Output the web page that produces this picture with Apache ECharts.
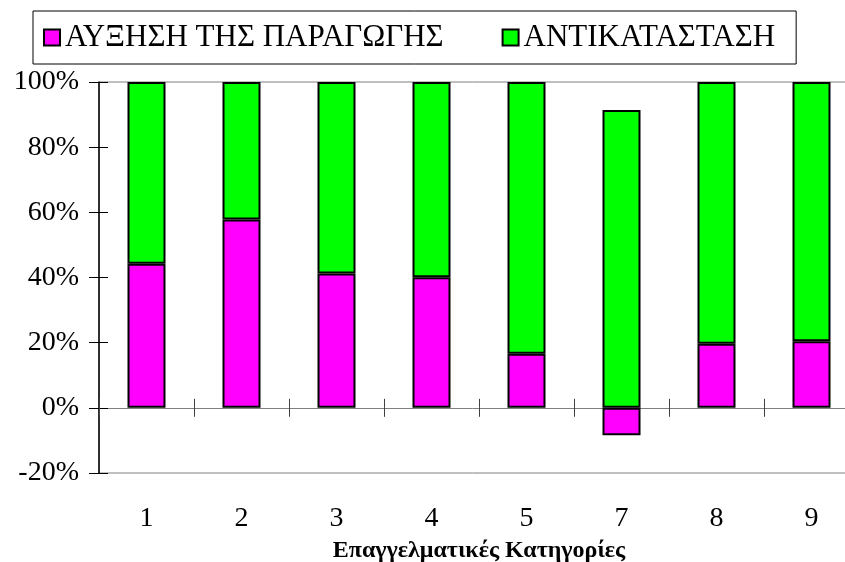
<!DOCTYPE html>
<html>
<head>
<meta charset="utf-8">
<script src="https://cdn.jsdelivr.net/npm/echarts@6/dist/echarts.min.js"></script>
<style>
  html, body { margin: 0; padding: 0; background: #fff; }
  #chart { width: 845px; height: 562px; }
</style>
</head>
<body>
<div id="chart"></div>
<script>
var categories = ['1', '2', '3', '4', '5', '7', '8', '9']
var growthName = 'ΑΥΞΗΣΗ ΤΗΣ ΠΑΡΑΓΩΓΗΣ'
var replaceName = 'ΑΝΤΙΚΑΤΑΣΤΑΣΗ'
var growth = [44.2, 57.8, 41.2, 40.1, 16.6, -8.4, 19.7, 20.4]       // magenta
var replacement = [55.8, 42.2, 58.8, 59.9, 83.4, 91.4, 80.3, 79.6]  // green
var xName = 'Επαγγελματικές Κατηγορίες'

var serif = '"Liberation Serif", "DejaVu Serif", serif'
var chart = echarts.init(document.getElementById('chart'))

// hidden helper axes only draw the crossing tick marks
function tickX(inside) {
  return {
    type: 'category', data: categories, position: 'bottom',
    axisLine: { show: !inside, onZero: true, onZeroAxisIndex: 0, lineStyle: { color: '#808080', width: 1 } },
    axisTick: { show: true, inside: inside, length: 9, lineStyle: { color: '#404040', width: 1 } },
    axisLabel: { show: false }, splitLine: { show: false }
  }
}

var option = {
  animation: false,
  backgroundColor: '#fff',
  textStyle: { fontFamily: serif },
  legend: {
    left: 33, top: 11,
    padding: [11, 21, 11, 10],
    borderColor: '#000', borderWidth: 1,
    itemWidth: 16, itemHeight: 16, itemGap: 58,
    icon: 'rect',
    itemStyle: { borderColor: '#000', borderWidth: 2 },
    textStyle: { fontFamily: serif, fontSize: 31, color: '#000' },
    data: [growthName, replaceName]
  },
  grid: {
    left: 99, right: -14, top: 82, bottom: 89,
    outerBoundsMode: 'none', containLabel: false,
    show: true, borderColor: '#808080', borderWidth: 1
  },
  xAxis: [
    {
      type: 'category', data: categories, position: 'bottom',
      axisLine: { show: false, onZero: false },
      axisTick: { show: false },
      axisLabel: { margin: 32, fontSize: 28, color: '#000', fontFamily: serif },
      name: xName, nameLocation: 'middle', nameGap: 66,
      nameTextStyle: { fontSize: 24, fontWeight: 'bold', color: '#000', fontFamily: serif }
    },
    tickX(false),
    tickX(true)
  ],
  yAxis: [
    {
      type: 'value', min: -20, max: 100, interval: 20, position: 'left',
      axisLine: { show: true, lineStyle: { color: '#000', width: 1.5 } },
      axisTick: { show: true, length: 10, lineStyle: { color: '#000' } },
      axisLabel: { formatter: '{value}%', margin: 20, fontSize: 28, color: '#000', fontFamily: serif },
      splitLine: { show: false }
    },
    {
      type: 'value', min: -20, max: 100, interval: 20, position: 'left',
      axisLine: { show: false },
      axisTick: { show: true, inside: true, length: 9, lineStyle: { color: '#000' } },
      axisLabel: { show: false },
      splitLine: { show: false }
    }
  ],
  series: [
    {
      name: growthName, type: 'bar', stack: 'total', data: growth,
      barWidth: '40%',
      itemStyle: { color: '#ff00ff', borderColor: '#000', borderWidth: 2 }
    },
    {
      name: replaceName, type: 'bar', stack: 'total', data: replacement,
      barWidth: '40%',
      itemStyle: { color: '#00ff00', borderColor: '#000', borderWidth: 2 }
    }
  ]
}
chart.setOption(option)
</script>
</body>
</html>
